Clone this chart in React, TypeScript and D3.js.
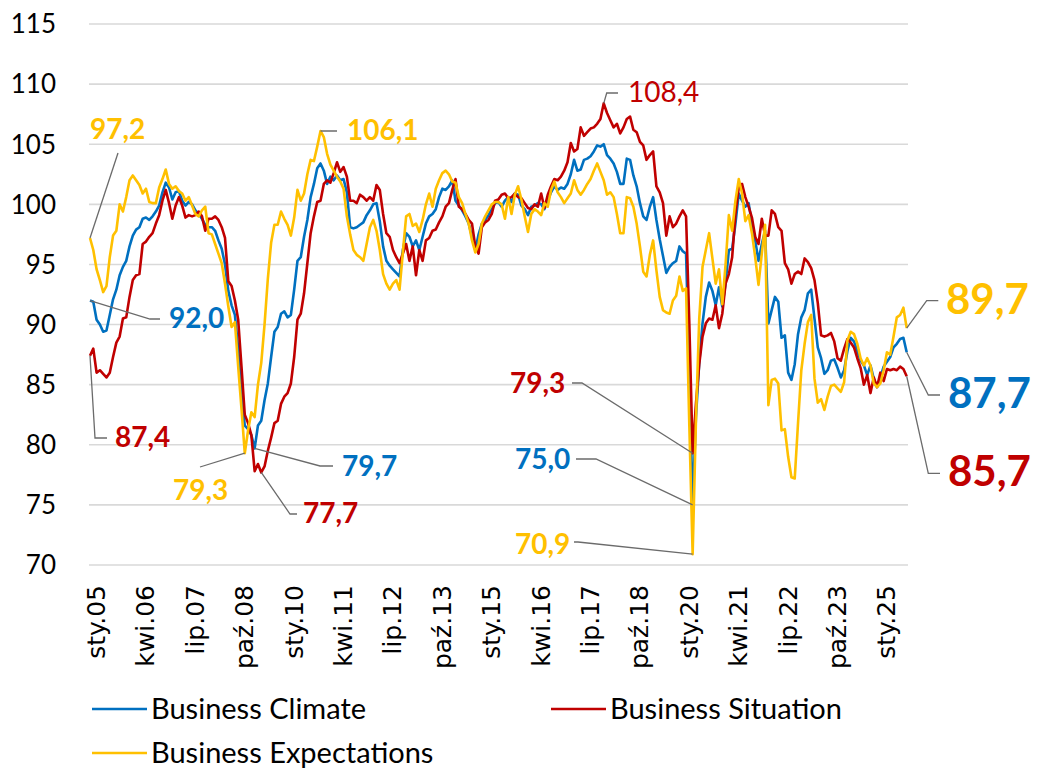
import { useEffect, useRef } from 'react';
import * as d3 from 'd3';

// monthly, sty.05 .. wrz.25
const climate = [
  92.0, 91.9, 90.4, 90.0, 89.4, 89.5, 90.8, 92.1, 92.9, 94.1, 94.8, 95.3, 96.5, 97.4, 97.9, 98.1, 98.8, 98.9, 98.7, 99.0,
  99.4, 99.9, 101.0, 101.8, 101.4, 100.4, 101.0, 101.1, 100.3, 99.9, 100.2, 100.0, 99.5, 99.2, 98.8, 98.3, 98.1, 98.1, 97.8, 97.0,
  96.3, 95.0, 92.8, 91.6, 90.8, 88.0, 84.2, 81.6, 81.3, 80.8, 79.7, 81.6, 82.0, 83.7, 85.1, 87.3, 89.4, 89.8, 90.9, 91.1,
  90.6, 90.8, 92.9, 95.3, 95.6, 97.3, 98.7, 100.6, 101.7, 103.0, 103.4, 102.8, 101.7, 102.3, 102.0, 102.4, 102.0, 102.1, 101.0, 98.1,
  98.0, 98.1, 98.3, 98.5, 99.1, 99.5, 100.0, 100.1, 98.6, 96.5, 95.3, 94.9, 94.6, 94.3, 94.0, 96.2, 97.6, 97.3, 96.5, 97.0,
  96.2, 97.3, 98.4, 99.0, 99.2, 99.6, 100.6, 101.3, 101.2, 101.5, 102.0, 100.3, 99.9, 99.5, 99.0, 98.4, 97.3, 96.2, 97.5, 98.4,
  98.7, 99.1, 99.6, 100.1, 100.2, 99.8, 100.3, 100.6, 100.2, 100.9, 100.8, 99.9, 99.6, 99.1, 99.8, 99.9, 100.1, 100.0, 99.6, 100.3,
  101.0, 101.5, 101.2, 101.4, 101.3, 101.7, 102.5, 103.7, 102.8, 102.9, 103.7, 103.8, 104.0, 104.4, 104.9, 104.8, 105.0, 104.1, 103.8, 103.4,
  102.7, 101.7, 101.7, 103.8, 103.7, 102.4, 101.5, 100.1, 99.0, 98.7, 99.8, 100.6, 98.7, 97.1, 95.7, 94.3, 94.8, 95.1, 95.3, 96.5,
  96.1, 95.9, 86.0, 75.0, 82.3, 86.8, 90.1, 92.3, 93.5, 92.8, 91.6, 93.1, 91.5, 93.4, 96.2, 96.3, 98.4, 100.9, 100.3, 99.8,
  100.1, 98.4, 97.0, 95.3, 96.7, 97.8, 90.1, 91.2, 92.3, 91.9, 88.9, 89.1, 86.0, 85.4, 86.7, 89.2, 90.6, 91.2, 92.6, 92.9,
  90.5, 88.1, 87.2, 85.9, 86.2, 87.0, 87.1, 86.4, 85.6, 86.2, 87.8, 88.9, 88.6, 87.8, 87.0, 86.6, 85.8, 86.6, 85.5, 84.8,
  85.6, 86.5, 86.9, 87.3, 88.1, 88.4, 88.8, 88.9, 87.7,
];

const situation = [
  87.4, 88.0, 86.0, 86.2, 85.9, 85.6, 86.0, 87.3, 88.5, 89.0, 90.5, 90.6, 92.3, 93.7, 94.1, 94.2, 96.7, 96.9, 97.3, 97.6,
  98.4, 99.1, 100.3, 101.2, 100.1, 98.8, 99.9, 100.6, 99.9, 98.9, 99.1, 99.0, 99.1, 99.4, 99.0, 97.8, 98.8, 98.8, 99.0, 98.7,
  98.1, 97.2, 93.6, 93.2, 92.0, 90.4, 86.5, 82.5, 81.8, 80.8, 77.8, 78.4, 77.7, 78.2, 79.5, 80.6, 81.8, 82.0, 83.4, 84.0,
  84.3, 85.1, 87.3, 90.4, 90.9, 92.6, 95.1, 97.6, 99.0, 100.2, 100.3, 101.7, 102.0, 101.8, 102.6, 103.5, 102.7, 103.1, 102.3, 100.3,
  100.3, 100.1, 100.8, 100.6, 100.3, 100.6, 100.3, 101.6, 101.2, 99.2, 97.6, 97.3, 96.2, 95.6, 95.1, 95.9, 96.7, 95.3, 96.5, 94.1,
  96.2, 95.3, 97.0, 97.2, 97.8, 97.9, 98.5, 99.0, 99.8, 100.1, 101.2, 102.1, 99.8, 99.6, 99.2, 98.7, 98.4, 96.5, 95.9, 98.1,
  98.5, 98.7, 99.2, 100.3, 100.4, 100.8, 100.9, 100.5, 100.6, 100.9, 100.6, 100.5, 100.1, 99.7, 99.6, 100.0, 99.8, 100.9, 99.7, 100.8,
  101.5, 102.1, 102.0, 102.3, 102.8, 103.5, 105.1, 104.4, 104.6, 106.4, 105.7, 106.0, 106.3, 106.4, 106.7, 107.1, 108.4, 107.6, 107.0, 106.4,
  106.7, 105.9, 106.4, 107.1, 107.3, 106.2, 106.0, 105.2, 104.9, 103.7, 104.1, 104.4, 101.5, 101.0, 100.1, 97.4, 99.0, 98.1, 98.4, 99.0,
  99.5, 99.0, 90.0, 79.3, 83.4, 86.7, 89.0, 90.1, 90.5, 90.4, 91.6, 89.7, 90.9, 93.4, 94.2, 95.6, 99.2, 101.4, 101.7, 100.6,
  99.8, 98.9, 97.3, 96.7, 98.8, 97.4, 97.4, 99.5, 99.2, 98.1, 97.8, 95.1, 94.6, 93.4, 94.2, 94.4, 94.2, 95.5, 95.2, 94.7,
  93.7, 91.8, 89.1, 89.0, 89.1, 89.3, 88.6, 87.2, 87.0, 88.0, 88.8, 88.5, 88.1, 87.2, 86.4, 85.0, 85.8, 84.3, 85.6, 84.8,
  86.0, 85.3, 86.3, 86.2, 86.3, 86.2, 86.5, 86.3, 85.7,
];

const expectations = [
  97.2, 96.2, 94.6, 93.7, 92.7, 93.2, 95.6, 97.4, 97.8, 100.0, 99.4, 100.6, 102.0, 102.4, 102.0, 101.6, 100.9, 101.3, 100.2, 100.1,
  100.1, 101.4, 102.1, 102.9, 101.7, 101.3, 101.5, 101.1, 100.9, 100.3, 100.6, 99.9, 99.2, 99.0, 99.5, 99.8, 97.6, 97.5, 96.7, 95.9,
  95.1, 93.4, 91.5, 89.8, 90.2, 86.5, 83.0, 79.3, 81.2, 82.7, 82.3, 85.0, 86.8, 90.0, 93.8, 96.8, 98.3, 98.3, 99.4, 98.8,
  98.3, 97.4, 98.9, 101.2, 100.3, 100.9, 102.5, 103.7, 103.6, 104.8, 106.1, 105.6, 104.2, 103.3, 102.8, 102.3, 101.9, 101.3, 99.0, 97.5,
  96.2, 95.8, 95.6, 95.3, 96.7, 98.1, 98.7, 97.8, 96.2, 94.2, 93.4, 92.9, 93.4, 93.7, 92.9, 96.0, 99.0, 99.2, 98.2, 98.4,
  97.7, 98.7, 100.0, 100.9, 99.8, 101.3, 102.0, 102.6, 102.8, 102.5, 101.9, 101.8, 100.6, 100.1, 99.2, 98.4, 97.0, 96.0, 96.7, 98.4,
  99.0, 99.5, 100.0, 100.2, 100.2, 100.0, 98.8, 100.6, 99.2, 100.8, 101.5, 100.4, 99.0, 97.7, 99.2, 99.6, 99.4, 99.1, 100.1, 99.8,
  101.2, 101.9, 101.0, 100.6, 100.1, 100.5, 100.9, 102.0, 101.2, 100.8, 101.2, 101.7, 102.1, 102.8, 103.4, 102.7, 102.0, 100.8, 101.0, 100.6,
  99.2, 97.6, 97.6, 100.6, 100.5, 99.8, 98.4, 96.5, 94.4, 94.0, 95.8, 97.0, 94.5, 92.3, 91.2, 91.0, 90.9, 92.0, 92.4, 94.0,
  92.8, 93.0, 81.5, 70.9, 82.0, 90.5, 94.8, 96.2, 97.6, 95.5, 93.4, 94.6, 91.7, 95.0, 99.1, 97.8, 100.3, 102.1, 100.9, 98.6,
  99.1, 97.6, 95.6, 93.3, 95.9, 98.3, 83.3, 85.4, 85.5, 85.1, 81.2, 81.3, 79.0, 77.3, 77.2, 81.8, 86.2, 88.4, 90.2, 90.8,
  85.5, 83.5, 83.8, 82.9, 84.0, 84.9, 85.0, 84.7, 84.4, 85.2, 88.7, 89.4, 89.2, 88.4, 87.2, 86.6, 87.2, 86.6, 85.1, 84.8,
  85.1, 86.2, 87.7, 87.5, 89.0, 90.6, 90.8, 91.4, 89.7,
];

const tickLabels = [
  'sty.05', 'kwi.06', 'lip.07', 'paź.08', 'sty.10', 'kwi.11', 'lip.12', 'paź.13', 'sty.15',
  'kwi.16', 'lip.17', 'paź.18', 'sty.20', 'kwi.21', 'lip.22', 'paź.23', 'sty.25',
];
const tickStep = 15;
const yTicks = [70, 75, 80, 85, 90, 95, 100, 105, 110, 115];

const seriesNames = ['Business Climate', 'Business Situation', 'Business Expectations'];
const BLUE = '#0070C0';
const RED = '#C00000';
const YELLOW = '#FFC000';
const LEADER = '#6b6b6b';
const FONT = 'Lato, "Liberation Sans", sans-serif';

interface Note {
  data: number[];
  i: number;
  color: string;
  tx: number;
  ty: number;
  size: number;
  bold: boolean;
  path: [number, number][];
}

const App = () => {
  const svgRef = useRef<SVGSVGElement | null>(null);

  useEffect(() => {
    const width = 1038;
    const height = 768;

    const svg = d3.select(svgRef.current);
    svg.selectAll('*').remove();
    svg.attr('width', width).attr('height', height);

    const x = d3.scaleLinear().domain([0, climate.length - 1]).range([90, 906.7]);
    const y = d3.scaleLinear().domain([70, 115]).range([565, 24]);

    // horizontal gridlines
    svg.append('g')
      .selectAll('line')
      .data(yTicks)
      .enter()
      .append('line')
      .attr('x1', 89)
      .attr('x2', 908)
      .attr('y1', d => y(d))
      .attr('y2', d => y(d))
      .attr('stroke', '#d9d9d9')
      .attr('stroke-width', 1.6);

    // y axis labels
    svg.append('g')
      .selectAll('text')
      .data(yTicks)
      .enter()
      .append('text')
      .attr('x', 56)
      .attr('y', d => y(d))
      .attr('dy', '0.36em')
      .attr('text-anchor', 'end')
      .style('font-family', FONT)
      .style('font-size', '26px')
      .style('fill', '#000')
      .text(d => d);

    // x axis labels, rotated
    tickLabels.forEach((label, k) => {
      svg.append('text')
        .attr('transform', `translate(${x(k * tickStep) + 6}, 585) rotate(-90)`)
        .attr('text-anchor', 'end')
        .attr('dy', '0.36em')
        .style('font-family', '"DejaVu Sans", sans-serif')
        .style('font-size', '25px')
        .style('fill', '#000')
        .text(label);
    });

    // series lines
    const line = d3.line<number>()
      .x((_, i) => x(i))
      .y(d => y(d));

    const series: [number[], string][] = [
      [climate, BLUE],
      [situation, RED],
      [expectations, YELLOW],
    ];

    series.forEach(([data, color]) => {
      svg.append('path')
        .datum(data)
        .attr('d', line)
        .attr('fill', 'none')
        .attr('stroke', color)
        .attr('stroke-width', 2.6)
        .attr('stroke-linejoin', 'round');
    });

    // data labels with leader lines
    const last = climate.length - 1;
    const notes: Note[] = [
      { data: expectations, i: 0, color: YELLOW, tx: 90, ty: 139, size: 28, bold: true, path: [[118, 153]] },
      { data: climate, i: 0, color: BLUE, tx: 169, ty: 328, size: 28, bold: true, path: [[150, 319], [160, 319]] },
      { data: situation, i: 0, color: RED, tx: 115, ty: 447, size: 28, bold: true, path: [[95, 438], [107, 438]] },
      { data: expectations, i: 47, color: YELLOW, tx: 173, ty: 500, size: 28, bold: true, path: [[200, 467]] },
      { data: climate, i: 50, color: BLUE, tx: 342, ty: 476, size: 28, bold: true, path: [[320, 466], [333, 466]] },
      { data: situation, i: 52, color: RED, tx: 303, ty: 523, size: 28, bold: true, path: [[290, 514], [297, 514]] },
      { data: expectations, i: 70, color: YELLOW, tx: 347, ty: 140, size: 28, bold: true, path: [[337, 131]] },
      { data: situation, i: 156, color: RED, tx: 628, ty: 102, size: 28, bold: false, path: [[606.7, 93], [618, 93]] },
      { data: situation, i: 183, color: RED, tx: 510, ty: 393, size: 28, bold: true, path: [[582, 383], [572, 383]] },
      { data: climate, i: 183, color: BLUE, tx: 515, ty: 469, size: 28, bold: true, path: [[596, 459], [576, 459]] },
      { data: expectations, i: 183, color: YELLOW, tx: 515, ty: 554, size: 28, bold: true, path: [[578, 542], [574, 542]] },
      { data: expectations, i: last, color: YELLOW, tx: 946, ty: 314, size: 42, bold: true, path: [[926.7, 300.7], [938.3, 300.7]] },
      { data: climate, i: last, color: BLUE, tx: 948, ty: 408, size: 42, bold: true, path: [[928.3, 395], [940, 395]] },
      { data: situation, i: last, color: RED, tx: 948, ty: 486, size: 42, bold: true, path: [[928.3, 473.3], [940, 473.3]] },
    ];

    const fmt = (v: number) => v.toFixed(1).replace('.', ',');

    notes.forEach(n => {
      const pts: [number, number][] = [[x(n.i), y(n.data[n.i])], ...n.path];
      svg.append('path')
        .attr('d', d3.line()(pts) as string)
        .attr('fill', 'none')
        .attr('stroke', LEADER)
        .attr('stroke-width', 1.3);

      svg.append('text')
        .attr('x', n.tx)
        .attr('y', n.ty)
        .style('font-family', FONT)
        .style('font-size', `${n.size}px`)
        .style('font-weight', n.bold ? 'bold' : 'normal')
        .style('fill', n.color)
        .text(fmt(n.data[n.i]));
    });

    // legend
    const legendRows: [string, string, number, number][] = [
      [seriesNames[0], BLUE, 92, 709],
      [seriesNames[1], RED, 551, 709],
      [seriesNames[2], YELLOW, 92, 753],
    ];

    legendRows.forEach(([name, color, lx, ly]) => {
      svg.append('line')
        .attr('x1', lx)
        .attr('x2', lx + 55)
        .attr('y1', ly)
        .attr('y2', ly)
        .attr('stroke', color)
        .attr('stroke-width', 2.6);

      svg.append('text')
        .attr('x', lx + 59)
        .attr('y', ly)
        .attr('dy', '0.36em')
        .style('font-family', FONT)
        .style('font-size', '29px')
        .style('fill', '#000')
        .text(name);
    });
  }, []);

  return (
    <svg
      ref={svgRef}
      style={{ position: 'absolute', left: 0, top: 0, background: '#fff' }}
    ></svg>
  );
};

export default App;
